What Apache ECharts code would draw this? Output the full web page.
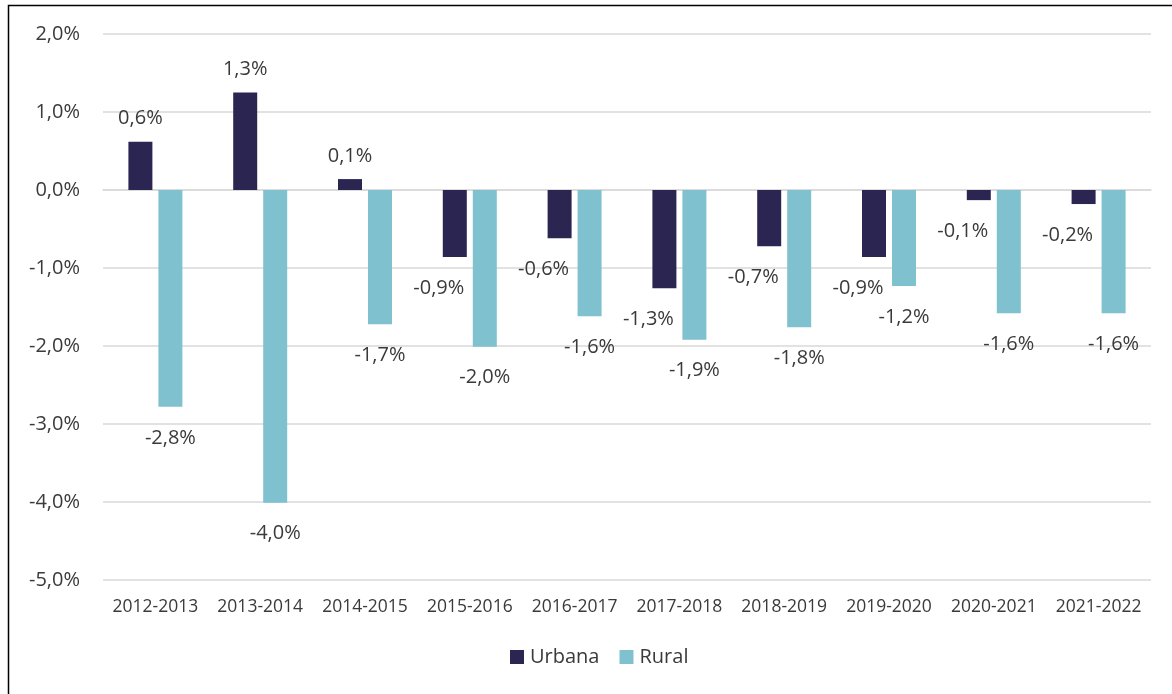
<!DOCTYPE html>
<html>
<head>
<meta charset="utf-8">
<script src="https://cdn.jsdelivr.net/npm/echarts@6/dist/echarts.min.js"></script>
<style>
  html, body {margin: 0; padding: 0; background: #fff;}
  #chart {width: 1172px; height: 694px;}
</style>
</head>
<body>
<div id="chart"></div>
<script>
const categories = ['2012-2013', '2013-2014', '2014-2015', '2015-2016', '2016-2017', '2017-2018', '2018-2019', '2019-2020', '2020-2021', '2021-2022'];
const urbana = [0.62, 1.25, 0.14, -0.86, -0.62, -1.26, -0.72, -0.86, -0.13, -0.18];
const rural = [-2.78, -4.01, -1.72, -2.01, -1.62, -1.92, -1.76, -1.23, -1.58, -1.58];
const yTicks = {min: -5, max: 2, interval: 1};

const fmt = v => v.toFixed(1).replace('.', ',') + '%';
const textColor = '#3a3a3a';
const font = '"Open Sans", "Noto Sans", sans-serif';

// labels outside the bar end, negative urbana labels nudged left like the original
const toItems = (arr, shift) => arr.map(v => ({
    value: v,
    label: {
        position: v >= 0 ? 'top' : 'bottom',
        distance: v >= 0 ? 13 : 21,
        offset: (shift && v < 0) ? [-16, 0] : [0, 0]
    }
}));

const labelStyle = {
    show: true,
    color: textColor, fontFamily: font, fontSize: 20,
    formatter: p => fmt(p.value)
};

const option = {
    animation: false,
    textStyle: {fontFamily: font},
    graphic: [{
        type: 'rect',
        shape: {x: 8.5, y: 5.5, width: 1200, height: 720},
        style: {fill: 'none', stroke: '#000', lineWidth: 1.5},
        silent: true
    }],
    legend: {
        data: ['Urbana', 'Rural'],
        bottom: 22, left: 505,
        icon: 'rect', itemWidth: 14, itemHeight: 14, itemGap: 20,
        textStyle: {fontSize: 20, color: textColor, fontFamily: font, padding: [0, 0, 0, 1]}
    },
    grid: {left: 103, right: 21, top: 34, bottom: 114, containLabel: false},
    xAxis: {
        type: 'category',
        data: categories,
        axisTick: {show: false},
        axisLine: {lineStyle: {color: '#D9D9D9', width: 1.5}},
        axisLabel: {interval: 0, color: textColor, fontSize: 17.5, fontFamily: font, margin: 18},
        position: 'bottom'
    },
    yAxis: {
        type: 'value',
        min: yTicks.min, max: yTicks.max, interval: yTicks.interval,
        axisLine: {show: false},
        axisTick: {show: false},
        splitLine: {lineStyle: {color: '#D9D9D9', width: 1.5}},
        axisLabel: {color: textColor, fontSize: 20, fontFamily: font, margin: 23, formatter: fmt}
    },
    series: [{
        name: 'Urbana', type: 'bar',
        barWidth: 24, barGap: '25%',
        itemStyle: {color: '#2B2552'},
        label: labelStyle,
        data: toItems(urbana, true)
    }, {
        name: 'Rural', type: 'bar',
        barWidth: 24, barGap: '25%',
        itemStyle: {color: '#7FC1CE'},
        label: labelStyle,
        data: toItems(rural, false)
    }]
};

const myChart = echarts.init(document.getElementById('chart'));
myChart.setOption(option);
</script>
</body>
</html>
